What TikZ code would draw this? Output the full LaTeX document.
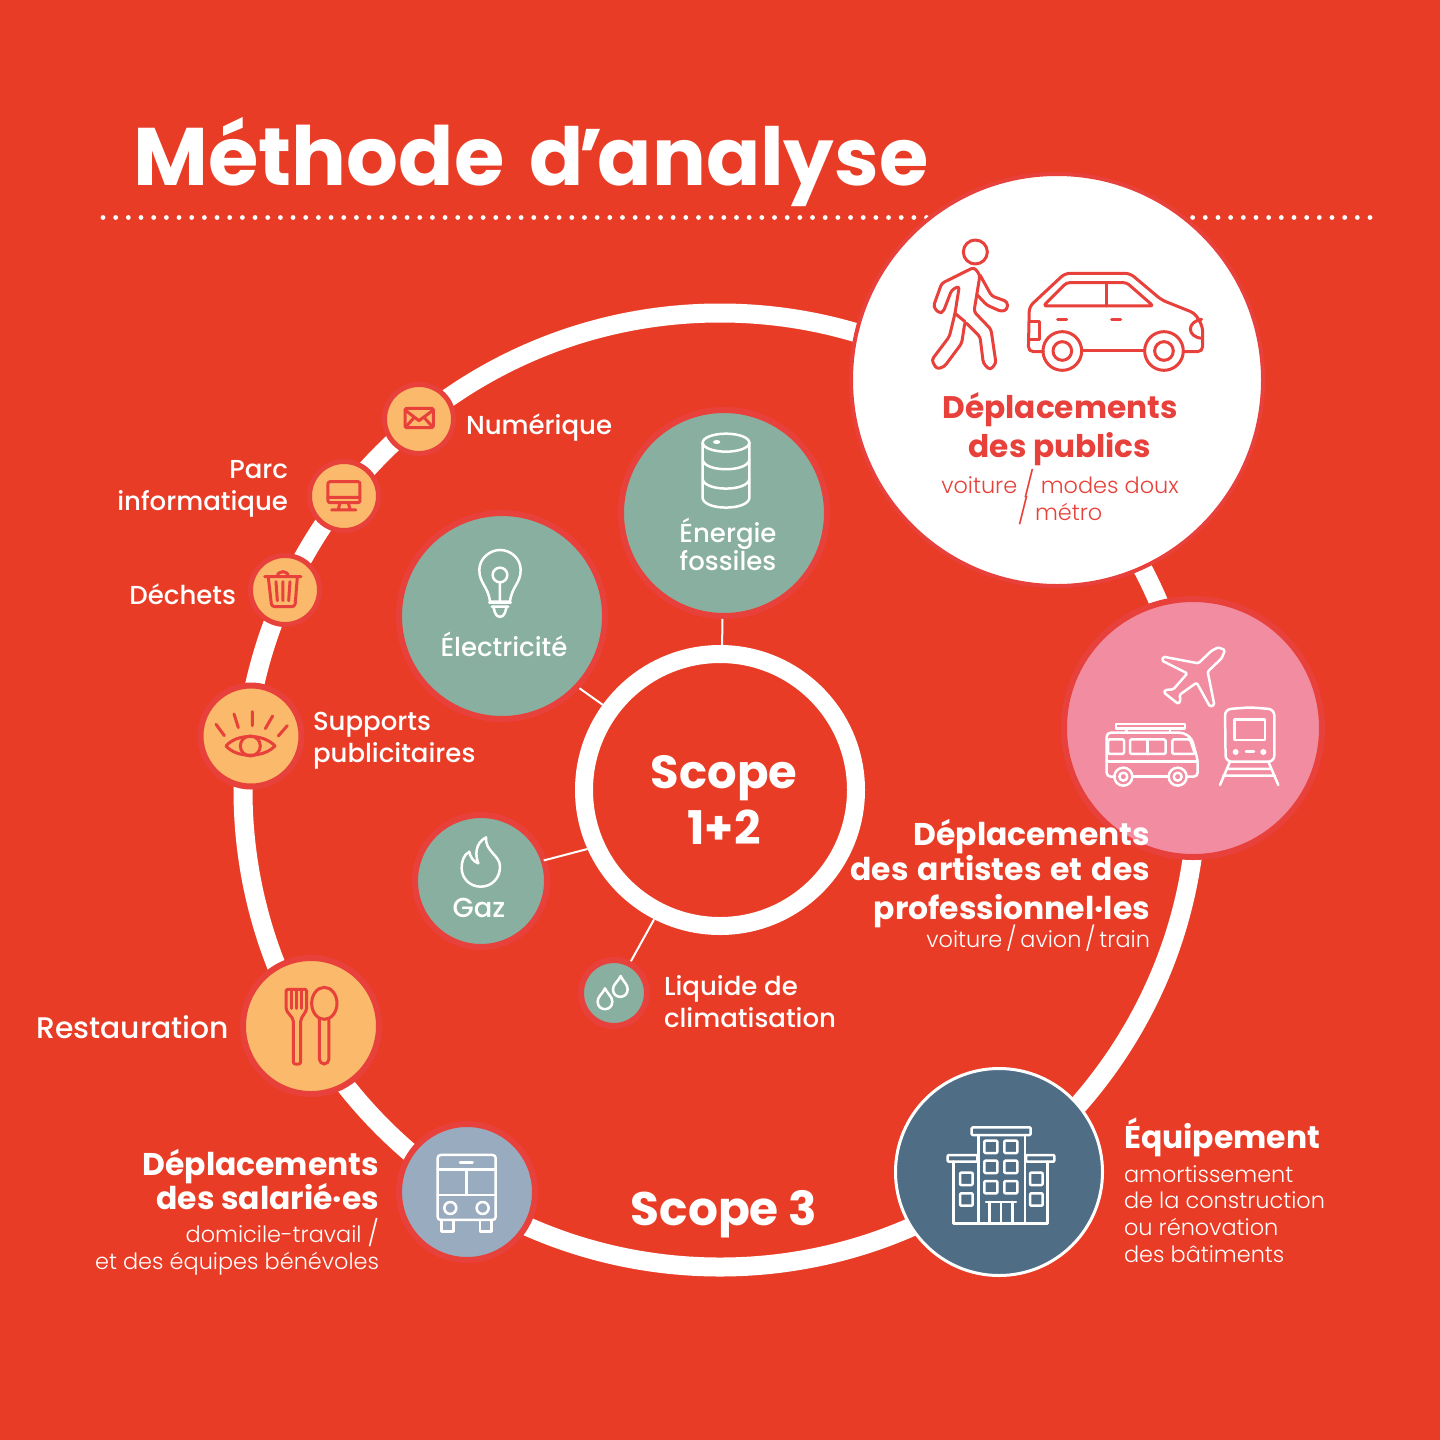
\documentclass[tikz,border=0pt]{standalone}
\usepackage{fontspec}
\setmainfont{Poppins}
\newfontfamily\poplight{Poppins Light}
\newfontfamily\popmed{Poppins Medium}
\usetikzlibrary{positioning}
\definecolor{bgred}{HTML}{E93C26}
\definecolor{rimred}{HTML}{E8403A}
\definecolor{iconred}{HTML}{E8403A}
\definecolor{peach}{HTML}{FAB96B}
\definecolor{sage}{HTML}{88AFA0}
\definecolor{rosy}{HTML}{F28CA1}
\definecolor{slate}{HTML}{506D86}
\definecolor{steel}{HTML}{99ABBE}
\newcommand{\tightlines}{\lineskiplimit=-50pt\relax}
\newcommand{\slashmark}{{\fontsize{12.8}{13}\selectfont/}}
\tikzset{
  bubble/.style={circle, draw=rimred, inner sep=0pt, line width=3pt},
  smallbubble/.style={bubble, line width=2.5pt, fill=peach, minimum size=34.5pt},
  basetxt/.style={inner sep=0pt, outer sep=0pt, text=white, execute at begin node=\tightlines},
  txt/.style={basetxt, font=\popmed\fontsize{13}{16}\selectfont},
  head/.style={basetxt, font=\bfseries\fontsize{15.7}{17.5}\selectfont},
  thin txt/.style={basetxt, font=\poplight\fontsize{11.2}{13.3}\selectfont},
  link/.style={draw=white, line width=1pt},
  redicon/.style={draw=iconred, line width=1.5pt, line join=round, line cap=round},
  whiteicon/.style={draw=white, line width=1.25pt, line join=round, line cap=round},
}
\begin{document}
\begin{tikzpicture}[x=0.5pt, y=-0.5pt]
  \useasboundingbox (0,0) rectangle (1440,1440);
  \fill[bgred] (0,0) rectangle (1440,1440);

  \coordinate (dotstart) at (103,217.5);
  \coordinate (dotend) at (1372,217.5);
  \draw[white, line width=2.4pt, line cap=round, dash pattern=on 0pt off 6.335pt] (dotstart) -- (dotend);
  \node[inner sep=0pt, text=white, anchor=base west, font=\bfseries\fontsize{40}{44}\selectfont] (title) at (133,185) {{\fontsize{40.8}{44}\selectfont Méthode}\hspace{4pt} d\kern-2.5pt’\kern-3pt analyse};

  \node[circle, draw=white, inner sep=0pt, line width=9.5pt, minimum size=477pt] (ring) at (720,790) {};
  \node[circle, draw=white, inner sep=0pt, line width=9pt, minimum size=136pt] (core) at (720,790) {};

  \node[bubble, fill=white, line width=2pt, minimum size=206pt] (publics) at (1057,380) {};
  \node[bubble, fill=rosy, minimum size=129pt] (pro) at (1193,728) {};
  \node[bubble, fill=slate, draw=white, line width=1.5pt, minimum size=103.5pt] (equip) at (999,1172) {};
  \node[bubble, fill=steel, minimum size=68pt] (salaries) at (467,1192) {};
  \node[bubble, fill=peach, minimum size=68pt] (resto) at (311,1026) {};
  \node[bubble, fill=peach, minimum size=50.5pt] (pub) at (251,736) {};
  \node[smallbubble] (dechets) at (285,590) {};
  \node[smallbubble] (parc) at (344,496) {};
  \node[smallbubble] (num) at (419,419) {};
  \node[bubble, fill=sage, minimum size=103pt] (fossile) at (724,513) {};
  \node[bubble, fill=sage, minimum size=103pt] (elec) at (502,616) {};
  \node[bubble, fill=sage, minimum size=66pt] (gaz) at (481,881) {};
  \node[bubble, fill=sage, minimum size=33pt] (clim) at (614,993) {};

  \draw[link] (fossile) -- (core);
  \draw[link] (elec.-43) -- (core.144);
  \draw[link, shorten <=-1.5pt] (gaz.18) -- (core.204);
  \draw[link] (clim.62) -- (core.-117);

  \node[txt, anchor=base west] (numtxt) at (466,434) {Numérique};
  \node[txt, anchor=base east, align=right] (parctxt) at (288,510) {Parc\\informatique};
  \node[txt, anchor=base east] (dechetstxt) at (236,604) {Déchets};
  \node[txt, anchor=base west, align=left] (pubtxt) at (313,762) {Supports\\publicitaires};
  \node[txt, anchor=base east, font=\popmed\fontsize{14.9}{16}\selectfont] (restotxt) at (229,1038) {Restauration};
  \node[txt, anchor=base, align=center, font=\popmed\fontsize{13}{14}\selectfont] (fossiletxt) at (728,570) {Énergie\\fossiles};
  \node[txt, anchor=base] (electxt) at (504,656) {Électricité};
  \node[txt, anchor=base, font=\popmed\fontsize{13.7}{16}\selectfont] (gaztxt) at (479,917) {Gaz};
  \node[txt, anchor=base west, align=left] (climtxt) at (664,1027) {Liquide de\\climatisation};
  \node[head, anchor=base, align=center, font=\bfseries\fontsize{23.2}{28}\selectfont] (coretxt) at (724,844) {Scope\\1+2};
  \node[head, anchor=base, font=\bfseries\fontsize{23.5}{28}\selectfont] (scopetrois) at (724,1225) {Scope 3};
  \node[head, anchor=base, align=center, text=iconred, font=\bfseries\fontsize{15.6}{19.5}\selectfont] (publicstxt) at (1060,457) {Déplacements\\des publics};
  \node[thin txt, anchor=base, align=center, text=iconred, font=\poplight\fontsize{11.2}{13.5}\selectfont] (publicsub) at (1060,520) {voiture \slashmark{} modes doux\\\slashmark{} métro};
  \node[head, anchor=base east, align=right] (protxt) at (1150,919) {Déplacements\\des\hspace{1.2pt} artistes\hspace{1.2pt} et\hspace{1.2pt} des\\[2pt]professionnel·les};
  \node[thin txt, anchor=base east, align=right] (prosub) at (1150,947) {voiture\,{\large/}\,avion\,{\large/}\,train};
  \node[head, anchor=base west] (equiptxt) at (1124,1148) {Équipement};
  \node[thin txt, anchor=base west, align=left] (equipsub) at (1124,1262) {amortissement\\de la construction\\ou rénovation\\des bâtiments};
  \node[head, anchor=base east, align=right, font=\bfseries\fontsize{15.7}{17}\selectfont] (salariestxt) at (379,1209) {Déplacements\\des salarié·es};
  \node[thin txt, anchor=base east, align=right, font=\poplight\fontsize{11.2}{13.5}\selectfont] (salariessub) at (379,1269) {domicile-travail \slashmark\\et des équipes bénévoles};

  \begin{scope}[shift={(900,220)}, scale=0.3333]
    \draw[redicon] (226,96) circle (36);
    \draw[redicon, rounded corners=1.5pt] (240,165) -- (222,142) -- (125,190) -- (100,260) -- (118,280) -- (130,275) -- (155,210) -- (178,198) -- (165,280) -- (148,350) -- (95,420) -- (110,447) -- (133,440) -- (185,370) -- (195,305) -- (240,350) -- (250,430) -- (270,450) -- (288,430) -- (273,328) -- (222,275) -- cycle;
    \draw[redicon, rounded corners=1.5pt] (240,165) -- (275,228) -- (322,245) -- (322,268) -- (305,275) -- (260,255) -- (232,225);
    \draw[redicon] (165,280) -- (195,305);
    \draw[redicon, rounded corners=2.5pt] (430,395) -- (385,395) -- (388,260) -- (495,160) -- (690,160) -- (785,240) -- (885,280) -- (908,320) -- (908,395) -- (850,395);
    \draw[redicon] (548,393) -- (732,393);
    \draw[redicon] (487,393) circle (58) (487,393) circle (28) (792,393) circle (58) (792,393) circle (28);
    \draw[redicon, rounded corners=1.5pt] (430,258) -- (500,188) -- (680,188) -- (760,258) -- cycle;
    \draw[redicon] (620,190) -- (620,258) (473,298) -- (500,298) (635,298) -- (662,298);
    \draw[redicon] (388,305) -- (418,305) -- (418,358) -- (388,358);
    \draw[redicon] (905,298) .. controls (860,305) and (860,350) .. (905,355);
  \end{scope}

  \begin{scope}[shift={(1080,630)}, scale=0.3333]
    \draw[whiteicon, rounded corners=0.7pt] (415,52) -- (395,62) -- (355,100) -- (250,80) -- (246,92) -- (322,130) -- (280,178) -- (255,180) -- (252,188) -- (295,222) -- (302,210) -- (298,195) -- (350,158) -- (390,230) -- (403,225) -- (383,125) -- (425,85) -- (435,60) -- cycle;
    \draw[whiteicon] (108,282) rectangle (315,296) (140,296) -- (140,308) (270,296) -- (270,308);
    \draw[whiteicon, rounded corners=2pt] (105,440) -- (80,440) -- (80,308) -- (310,308) -- (335,325) -- (353,390) -- (353,440) -- (320,440);
    \draw[whiteicon] (160,440) -- (265,440) (80,395) -- (353,395);
    \draw[whiteicon] (130,440) circle (27) (130,440) circle (12) (293,440) circle (27) (293,440) circle (12);
    \draw[whiteicon, rounded corners=0.7pt] (84,328) rectangle (132,372) (150,328) rectangle (257,372);
    \draw[whiteicon] (203,328) -- (203,372);
    \draw[whiteicon, rounded corners=0.7pt] (277,328) -- (330,328) -- (345,372) -- (277,372) -- cycle;
    \draw[whiteicon, rounded corners=3pt] (437,395) -- (435,238) -- (510,232) -- (583,238) -- (583,395) -- cycle;
    \draw[whiteicon] (463,268) rectangle (555,330);
    \fill[white] (467,366) circle (9) (550,366) circle (9);
    \draw[whiteicon] (498,365) -- (522,365);
    \draw[whiteicon] (450,395) -- (420,465) (565,395) -- (595,465) (440,417) -- (575,417) (430,437) -- (585,437);
  \end{scope}

  \begin{scope}[shift={(380,380)}, scale=0.3333]
    \draw[redicon, rounded corners=0.7pt] (75,85) rectangle (160,143);
    \draw[redicon] (75,90) -- (117,122) -- (160,90) (78,140) -- (103,112) (157,140) -- (132,112);
    \draw[whiteicon] (330,665) .. controls (325,620) and (298,610) .. (298,570) .. controls (298,535) and (330,510) .. (360,510) .. controls (392,510) and (422,535) .. (422,570) .. controls (422,610) and (395,620) .. (390,665) -- cycle;
    \draw[whiteicon] (360,585) circle (22) (360,607) -- (360,665) (335,680) -- (385,680) (328,668) -- (392,668);
    \draw[whiteicon] (340,680) -- (345,698) .. controls (350,715) and (370,715) .. (375,698) -- (380,680);
  \end{scope}

  \begin{scope}[shift={(190,380)}, scale=0.3333]
    \draw[redicon, rounded corners=1pt] (414,305) rectangle (510,368);
    \draw[redicon] (414,352) -- (510,352) (450,368) -- (445,388) (475,368) -- (480,388) (425,390) -- (498,390);
    \draw[redicon] (224,590) -- (333,590) (262,590) .. controls (262,570) and (295,570) .. (295,590);
    \draw[redicon, rounded corners=1.5pt] (235,592) -- (245,680) -- (315,680) -- (322,592);
    \draw[redicon] (258,605) -- (262,662) (279,605) -- (279,662) (300,605) -- (296,662);
    \draw[redicon] (108,1098) .. controls (140,1060) and (220,1060) .. (255,1098) .. controls (220,1135) and (140,1135) .. (108,1098) -- cycle;
    \draw[redicon] (181,1098) circle (30);
    \draw[redicon] (78,1033) -- (103,1067) (132,1002) -- (145,1043) (187,995) -- (187,1037) (248,1008) -- (226,1046) (292,1037) -- (265,1068);
  \end{scope}

  \begin{scope}[shift={(920,1100)}, scale=0.3333]
    \draw[whiteicon, rounded corners=0.5pt] (155,82) rectangle (332,105) (83,165) rectangle (172,185) (318,165) rectangle (403,185);
    \draw[whiteicon] (175,105) -- (175,370) (315,105) -- (315,370) (100,185) -- (100,370) -- (383,370) -- (383,185);
    \foreach \wy in {122,182,243}
      \foreach \wx in {193,253}
        \draw[whiteicon, rounded corners=0.5pt] (\wx,\wy) rectangle ++(39,37);
    \foreach \wy in {218,280}
      \foreach \wx in {120,330}
        \draw[whiteicon, rounded corners=0.5pt] (\wx,\wy) rectangle ++(38,37);
    \draw[whiteicon] (198,306) -- (288,306) (208,306) -- (208,370) (243,306) -- (243,370) (278,306) -- (278,370);
  \end{scope}

  \begin{scope}[shift={(260,970)}, scale=0.3333]
    \draw[redicon, rounded corners=1pt] (78,58) -- (78,120) -- (100,148) -- (100,282) -- (122,282) -- (122,148) -- (140,120) -- (140,58) -- cycle;
    \draw[redicon] (93,58) -- (93,115) (110,58) -- (110,115) (126,58) -- (126,115);
    \draw[redicon] (193,100) ellipse (38 and 48);
    \draw[redicon, rounded corners=2.5pt] (178,147) -- (178,282) -- (207,282) -- (207,147);
    \draw[whiteicon, rounded corners=1.5pt] (533,555) rectangle (707,750);
    \draw[whiteicon] (533,598) -- (707,598) (533,675) -- (707,675) (620,598) -- (620,675) (600,578) -- (638,578);
    \draw[whiteicon] (571,714) circle (18) (668,714) circle (18);
    \draw[whiteicon] (545,750) -- (545,785) -- (580,785) -- (580,750) (660,750) -- (660,785) -- (695,785) -- (695,750);
  \end{scope}

  \begin{scope}[shift={(410,820)}, scale=0.3333]
    \draw[whiteicon] (228,52) .. controls (195,70) and (195,105) .. (205,130) .. controls (190,125) and (180,110) .. (178,95) .. controls (160,105) and (155,125) .. (155,145) .. controls (155,175) and (180,200) .. (212,200) .. controls (245,200) and (270,175) .. (270,140) .. controls (270,105) and (225,95) .. (228,52) -- cycle;
    \draw[whiteicon] (585,505) .. controls (575,525) and (563,530) .. (563,545) .. controls (563,575) and (607,575) .. (607,545) .. controls (607,530) and (595,525) .. (585,505) -- cycle;
    \draw[whiteicon] (632,468) .. controls (622,488) and (609,493) .. (609,508) .. controls (609,538) and (653,538) .. (653,508) .. controls (653,493) and (642,488) .. (632,468) -- cycle;
  \end{scope}

  \begin{scope}[shift={(620,410)}, scale=0.3333]
    \draw[whiteicon] (318,98) ellipse (70 and 27);
    \draw[whiteicon] (248,98) -- (248,265) .. controls (255,302) and (381,302) .. (388,265) -- (388,98);
    \draw[whiteicon] (248,150) .. controls (255,187) and (381,187) .. (388,150) (248,208) .. controls (255,245) and (381,245) .. (388,208);
    \fill[white] (290,96) ellipse (11 and 6);
  \end{scope}
\end{tikzpicture}
\end{document}
